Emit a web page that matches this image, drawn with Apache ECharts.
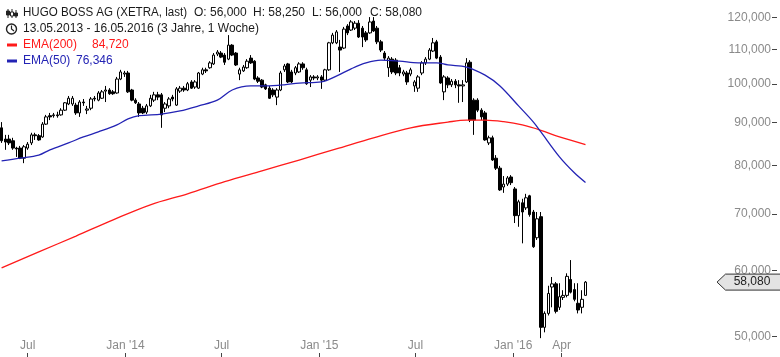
<!DOCTYPE html>
<html><head><meta charset="utf-8">
<script src="https://cdn.jsdelivr.net/npm/echarts@6/dist/echarts.min.js"></script>
<style>html,body{margin:0;padding:0;background:#fff}#c{width:780px;height:357px}</style>
</head><body><div id="c"></div>
<script>
// Weekly candles, first week 13.05.2013
const firstWeek = Date.UTC(2013, 4, 13);
const opens = [88.7,86.0,86.0,85.6,83.9,83.9,81.6,83.9,85.1,87.0,86.8,86.5,89.6,91.7,91.7,91.9,91.9,93.1,94.7,94.7,
94.4,92.4,95.2,93.1,93.6,96.2,95.7,96.2,98.1,98.4,97.9,97.6,101.4,102.8,103.1,98.4,95.7,94.7,93.6,92.6,
94.2,95.7,97.1,97.1,93.6,94.2,96.5,94.4,98.1,98.9,98.4,100.6,99.2,98.9,102.8,104.0,104.6,105.7,108.6,108.9,
108.3,107.1,111.3,108.9,102.8,103.7,104.6,107.4,106.5,101.7,101.1,99.8,98.9,98.4,96.5,98.4,104.0,105.7,103.4,103.1,
103.4,105.7,104.0,101.1,102.0,101.7,102.0,101.1,104.0,112.0,112.0,110.7,110.4,117.3,116.0,116.6,118.2,116.6,115.1,115.1,
118.9,116.6,112.3,108.9,104.6,107.1,106.8,104.6,102.8,103.1,102.8,99.5,98.9,103.1,106.0,107.1,109.5,112.3,107.7,97.9,
101.7,99.8,100.8,99.8,99.5,100.6,106.2,95.7,95.7,93.1,92.4,85.1,86.3,81.6,79.4,75.4,76.0,77.5,75.0,69.7,
72.2,71.2,73.6,70.4,65.6,69.5,51.3,53.3,57.3,57.8,54.2,55.7,56.0,58.5,56.9,54.8,54.2,56.0];
const closes = [85.6,85.3,85.1,83.9,83.7,81.6,84.2,84.8,87.0,86.8,85.8,89.6,91.4,91.4,91.9,91.7,93.1,95.0,96.2,96.2,
92.4,95.2,95.0,93.4,96.0,96.0,97.6,97.9,98.4,97.4,97.4,101.4,103.4,103.1,97.9,95.7,95.0,92.4,92.4,94.2,
96.2,97.1,96.5,91.9,94.7,96.0,96.0,98.7,98.9,98.4,100.1,98.9,100.6,103.1,104.0,103.7,106.0,108.3,109.2,107.7,
106.2,111.3,108.3,105.4,104.0,104.8,106.5,106.0,101.4,100.8,99.2,98.7,96.2,97.1,98.4,103.1,105.1,100.6,100.6,104.6,
105.7,104.6,100.1,102.0,101.7,102.0,101.1,104.0,112.0,114.4,115.4,109.8,116.3,115.1,118.6,118.2,113.8,113.8,112.9,118.6,
115.7,112.3,109.8,107.4,107.4,103.4,103.1,103.1,103.4,100.6,104.0,100.6,102.0,106.0,107.1,109.8,112.0,107.4,100.3,102.0,
99.8,100.8,99.8,99.5,99.8,106.0,90.6,90.6,93.1,91.4,85.8,86.3,81.2,79.4,74.8,76.0,77.3,76.3,69.7,72.4,
70.4,73.2,69.9,64.0,69.1,51.3,53.3,56.3,57.8,53.6,55.8,56.0,59.0,56.5,55.4,53.8,55.4,58.08];
const lows = [85.1,83.5,84.6,83.5,81.9,81.4,80.5,83.5,84.6,85.8,85.6,86.3,89.4,90.6,91.2,91.2,91.7,92.9,94.4,94.2,
91.9,91.4,94.2,92.1,93.1,95.4,95.4,96.0,95.2,97.1,97.1,97.4,101.1,102.0,97.6,95.4,94.7,91.4,92.1,92.1,
93.9,95.2,95.7,88.7,92.6,93.6,95.4,94.2,97.6,97.9,98.1,98.7,98.7,98.7,102.5,103.1,104.3,105.4,108.0,107.4,
105.4,106.8,108.0,105.1,101.1,103.4,104.3,105.7,101.1,100.3,98.9,98.4,96.0,96.5,94.4,98.1,103.4,100.3,100.3,102.5,
103.1,104.0,99.8,99.2,101.1,101.1,98.7,100.8,103.7,111.6,111.6,103.4,110.1,114.4,115.7,116.0,113.5,110.7,112.3,114.8,
115.4,111.6,109.2,106.8,102.0,102.8,102.5,102.2,102.2,99.8,102.2,97.9,97.9,102.5,105.4,106.8,109.2,107.1,100.1,95.7,
98.9,99.2,98.9,95.0,95.2,100.3,90.1,87.0,92.6,90.6,85.6,84.6,81.0,79.0,74.6,74.2,75.6,75.8,68.3,67.6,
64.6,70.8,69.5,63.8,65.2,49.8,50.6,53.0,54.2,53.3,53.8,55.3,55.7,56.3,55.1,53.3,53.3,56.0];
const highs = [90.1,87.0,87.0,86.3,84.2,84.4,84.6,85.3,87.5,87.5,87.2,90.1,91.9,92.4,92.4,92.7,93.6,95.2,96.8,96.8,
95.0,95.7,96.0,94.2,96.5,96.8,98.1,98.4,99.5,98.9,98.4,102.0,104.0,103.7,103.7,98.7,96.2,95.2,94.2,94.7,
97.1,97.9,97.9,97.6,95.2,96.5,97.1,99.2,99.5,99.5,100.6,101.1,101.1,103.4,104.6,104.6,106.5,108.9,109.8,109.5,
108.9,114.4,111.6,109.2,104.6,105.4,107.1,108.3,106.8,102.2,101.4,100.1,99.5,98.9,98.9,103.7,105.7,106.0,104.0,105.1,
106.2,106.2,104.6,102.5,102.5,102.5,102.5,104.3,112.3,115.1,116.0,112.9,117.0,117.9,119.2,118.9,119.2,117.3,115.7,120.2,
120.2,117.3,112.9,109.5,108.0,107.7,107.4,105.4,104.0,103.7,104.6,101.1,102.5,106.5,107.7,110.4,113.5,112.9,108.3,102.5,
102.2,101.4,101.4,101.1,101.1,107.4,106.8,96.2,96.2,93.6,92.9,86.8,86.8,82.3,79.9,77.7,77.7,77.9,75.4,72.8,
73.0,74.0,73.8,70.8,70.4,70.4,53.6,57.5,58.9,58.1,57.9,56.8,59.5,61.7,57.9,57.9,56.8,58.25];

// EMA lines (week index, value)
const ema200Weeks  = [0,10,20,30,40,50,60,70,80,90,100,110,120,125,130,135,140,145,150,157];
const ema200Values = [60.4,63.1,65.9,68.9,71.8,74.0,76.5,78.8,81.2,83.7,86.3,88.7,90.1,90.6,90.6,90.2,89.4,88.1,86.5,84.72];
const ema50Weeks  = [0,5,10,13,18,22,26,31,34,37,43,48,53,58,62,67,71,76,80,86,90,94,98,102,107,112,117,120,125,130,134,139,143,145,150,154,157];
const ema50Values = [81.0,81.6,82.3,83.5,85.1,86.5,87.7,89.4,90.9,91.7,92.1,92.9,94.2,95.7,98.4,99.5,99.5,99.8,100.3,100.6,102.2,104.3,106.0,106.8,106.5,106.0,106.0,105.4,104.8,102.5,99.5,94.2,90.1,87.7,81.9,78.4,76.346];

const yTickValues = [50,60,70,80,90,100,110,120];
const xTickDates = [[2013,6,1],[2014,0,1],[2014,6,1],[2015,0,1],[2015,6,1],[2016,0,1],[2016,3,1]];

const header = {
  title: 'HUGO BOSS AG (XETRA, last)',
  ohlc: ['O: 56,000', 'H: 58,250', 'L: 56,000', 'C: 58,080'],
  range: '13.05.2013 - 16.05.2016 (3 Jahre, 1 Woche)',
  ema200: ['EMA(200)', '84,720'],
  ema50: ['EMA(50)', '76,346'],
  last: 58.08
};

const DAY = 86400000;
const weekTime = i => firstWeek + i * 7 * DAY;
const candleData = opens.map((o, i) => [weekTime(i), o, closes[i], lows[i], highs[i]]);
const ema200Data = ema200Weeks.map((w, i) => [weekTime(w), ema200Values[i]]);
const ema50Data = ema50Weeks.map((w, i) => [weekTime(w), ema50Values[i]]);
const xTicks = xTickDates.map(d => Date.UTC(d[0], d[1], d[2]));
const fmt3 = v => Number(v).toFixed(3).replace('.', ',');
const fmtMonth = v => {
  const d = new Date(v);
  const m = d.getUTCMonth();
  if (m === 0) return "Jan '" + String(d.getUTCFullYear()).slice(2);
  return ['Jan','Feb','Mär','Apr','Mai','Jun','Jul','Aug','Sep','Okt','Nov','Dez'][m];
};

const FONT = '12px "Liberation Sans", Arial, sans-serif';
const RED = '#ff1a1a', BLUE = '#2323b4', TXT = '#1a1a1a';

const chart = echarts.init(document.getElementById('c'), null, {renderer: 'canvas', width: 780, height: 357});
const xMin = Date.UTC(2013, 4, 10);
const xMax = xMin + 1453 * DAY;

function headerGraphics() {
  const g = [];
  const t = (x, y, text, fill, sx) => g.push({type: 'text', x: x, y: y, scaleX: sx || 1, silent: true,
    style: {text: text, fill: fill, font: FONT, verticalAlign: 'middle', align: 'left'}});
  [[8, 9, 18, 11, 15, true], [12, 9, 18, 12, 16, false], [16, 10, 18, 13, 16, true]].forEach(c => {
    g.push({type: 'line', shape: {x1: c[0], y1: c[1], x2: c[0], y2: c[2]}, style: {stroke: '#222', lineWidth: 1}});
    g.push({type: 'rect', shape: {x: c[0] - 1.5, y: c[3], width: 3, height: c[4] - c[3]},
      style: {fill: c[5] ? '#222' : '#fff', stroke: '#222', lineWidth: 1}});
  });
  t(23, 13, header.title, TXT, 0.965);
  [194, 253, 312, 370].forEach((x, i) => t(x, 13, header.ohlc[i], TXT));
  g.push({type: 'circle', shape: {cx: 11.5, cy: 29, r: 5}, style: {fill: 'none', stroke: '#222', lineWidth: 1.4}});
  g.push({type: 'polyline', shape: {points: [[11.5, 25.5], [11.5, 29], [14, 31]]}, style: {fill: 'none', stroke: '#222', lineWidth: 1.2}});
  t(23, 29, header.range, TXT);
  g.push({type: 'rect', shape: {x: 7, y: 43.5, width: 10, height: 3}, style: {fill: RED}});
  t(23, 45, header.ema200[0], RED);
  t(92, 45, header.ema200[1], RED);
  g.push({type: 'rect', shape: {x: 7, y: 59.5, width: 10, height: 3}, style: {fill: BLUE}});
  t(23, 61, header.ema50[0], BLUE);
  t(76, 61, header.ema50[1], BLUE);
  return g;
}

chart.setOption({
  animation: false,
  backgroundColor: '#fff',
  grid: {left: 0, right: 8, top: 0, bottom: 4, containLabel: false},
  xAxis: {
    type: 'value', min: xMin, max: xMax, scale: true,
    axisLine: {show: false}, splitLine: {show: false},
    axisTick: {show: true, customValues: xTicks, length: 4, inside: false, lineStyle: {color: '#444'}},
    axisLabel: {show: true, customValues: xTicks, inside: true, margin: 1, color: '#8a8a8a',
      fontFamily: '"Liberation Sans", Arial, sans-serif', fontSize: 12, formatter: fmtMonth, hideOverlap: false}
  },
  yAxis: {
    type: 'log', logBase: 10, position: 'right', min: 47.81, max: 125.97,
    axisLine: {show: false}, splitLine: {show: false},
    axisTick: {show: true, customValues: yTickValues, length: 5, inside: false, lineStyle: {color: '#444'}},
    axisLabel: {show: true, customValues: yTickValues, inside: true, margin: 1, color: '#8a8a8a',
      fontFamily: '"Liberation Sans", Arial, sans-serif', fontSize: 12, formatter: v => fmt3(v)}
  },
  series: [
    {type: 'candlestick', data: candleData, barWidth: 3,
      itemStyle: {color: '#fff', color0: '#000', borderColor: '#000', borderColor0: '#000', borderWidth: 1}},
    {type: 'line', data: ema200Data, smooth: 0.35, symbol: 'none',
      lineStyle: {color: RED, width: 1.3}, z: 3},
    {type: 'line', data: ema50Data, smooth: 0.35, symbol: 'none',
      lineStyle: {color: BLUE, width: 1.3}, z: 3}
  ],
  graphic: headerGraphics()
});

const py = chart.convertToPixel({yAxisIndex: 0}, header.last);
const g = headerGraphics();
g.push({type: 'polygon', shape: {points: [[717, py], [725.5, py - 8], [781, py - 8], [781, py + 8], [725.5, py + 8]]},
  style: {fill: '#e3e3e3', stroke: '#333', lineWidth: 1}, z: 100});
g.push({type: 'text', x: 752, y: py, z: 101,
  style: {text: fmt3(header.last), fill: '#222', font: FONT, align: 'center', verticalAlign: 'middle'}});
chart.setOption({graphic: g}, {replaceMerge: ['graphic']});
</script>
</body></html>
